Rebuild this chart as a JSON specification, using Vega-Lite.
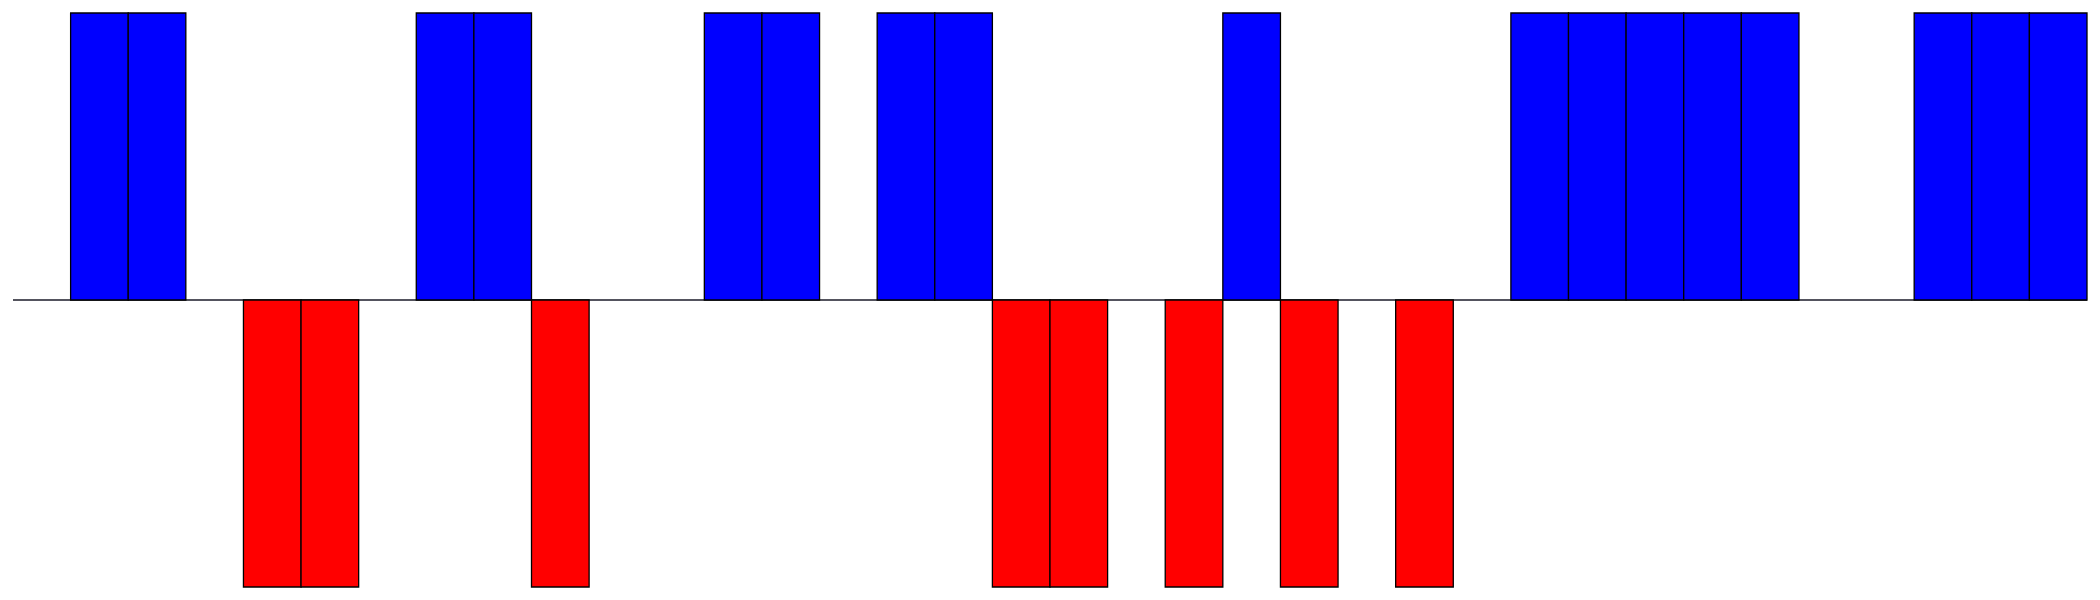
{
  "$schema": "https://vega.github.io/schema/vega-lite/v6.json",
  "width": 2074,
  "height": 574,
  "padding": {"left": 13, "top": 13, "right": 13, "bottom": 13},
  "autosize": {"type": "none"},
  "background": "white",
  "config": {"view": {"stroke": null}},
  "data": {"values": [
    {"i": 0, "v": 0}, {"i": 1, "v": 1}, {"i": 2, "v": 1}, {"i": 3, "v": 0},
    {"i": 4, "v": -1}, {"i": 5, "v": -1}, {"i": 6, "v": 0}, {"i": 7, "v": 1},
    {"i": 8, "v": 1}, {"i": 9, "v": -1}, {"i": 10, "v": 0}, {"i": 11, "v": 0},
    {"i": 12, "v": 1}, {"i": 13, "v": 1}, {"i": 14, "v": 0}, {"i": 15, "v": 1},
    {"i": 16, "v": 1}, {"i": 17, "v": -1}, {"i": 18, "v": -1}, {"i": 19, "v": 0},
    {"i": 20, "v": -1}, {"i": 21, "v": 1}, {"i": 22, "v": -1}, {"i": 23, "v": 0},
    {"i": 24, "v": -1}, {"i": 25, "v": 0}, {"i": 26, "v": 1}, {"i": 27, "v": 1},
    {"i": 28, "v": 1}, {"i": 29, "v": 1}, {"i": 30, "v": 1}, {"i": 31, "v": 0},
    {"i": 32, "v": 0}, {"i": 33, "v": 1}, {"i": 34, "v": 1}, {"i": 35, "v": 1}
  ]},
  "encoding": {
    "x": {"field": "i", "type": "ordinal", "scale": {"paddingInner": 0, "paddingOuter": 0}, "axis": null}
  },
  "layer": [
    {
      "mark": {"type": "rule", "stroke": "#55555f", "strokeWidth": 1.2},
      "encoding": {
        "x": {"value": 0},
        "x2": {"value": 2074},
        "y": {"datum": 0, "type": "quantitative", "scale": {"domain": [-1, 1], "nice": false}, "axis": null}
      }
    },
    {
      "mark": {"type": "bar", "stroke": "black", "strokeWidth": 1.3},
      "encoding": {
        "y": {"field": "v", "type": "quantitative", "axis": null},
        "color": {"condition": {"test": "datum.v > 0", "value": "#0000ff"}, "value": "#ff0000"},
        "opacity": {"condition": {"test": "datum.v == 0", "value": 0}, "value": 1},
        "strokeOpacity": {"condition": {"test": "datum.v == 0", "value": 0}, "value": 1}
      }
    }
  ]
}
